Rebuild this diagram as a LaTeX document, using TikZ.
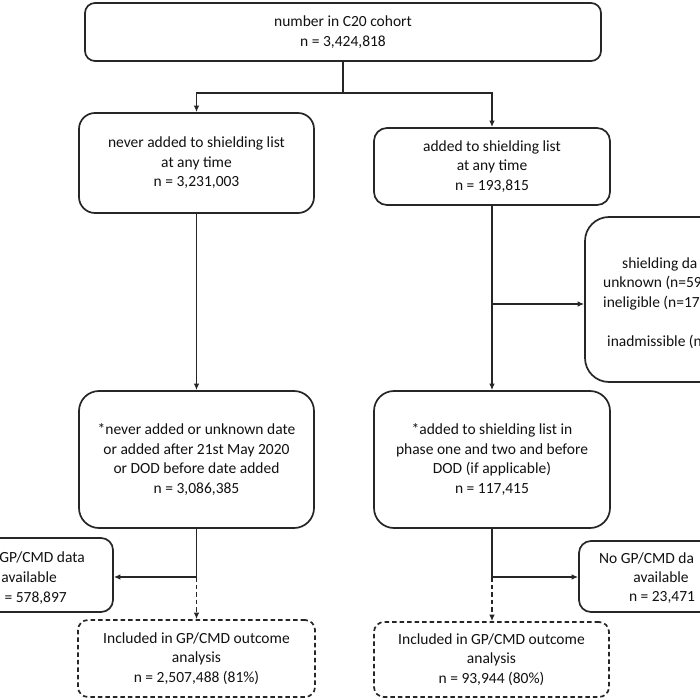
\documentclass[tikz,border=0pt]{standalone}
\usepackage{fontspec}
\setmainfont{Carlito}
\usetikzlibrary{arrows.meta}
\definecolor{linec}{HTML}{262626}
\definecolor{txtc}{HTML}{111111}
\newcommand{\boxfont}{\fontsize{15.5}{19.5}\selectfont}
\begin{document}
\begin{tikzpicture}[x=1pt,y=-1pt,
  box/.style={draw=linec, line width=1.7pt, rounded corners=#1, align=center,
    inner sep=0pt, font=\boxfont, text=txtc},
  box/.default=12pt,
  lbl/.style={inner sep=0pt, font=\boxfont, text=txtc},
  conn/.style={draw=linec, line width=1.5pt},
  arr/.style={conn, -{Latex[length=6.5pt,width=5.5pt]}},
  dashline/.style={dash pattern=on 4.5pt off 3pt},
]
\useasboundingbox (0,0) rectangle (700,700);
\clip (0,0) rectangle (700,700);
\fill[white] (0,0) rectangle (700,700);

% boxes
\node[box=10pt, minimum width=516pt, minimum height=58pt] (top) at (343,32)
  {number in C20 cohort\\n = 3,424,818};
\node[box=16pt, minimum width=235pt, minimum height=100pt] (left2) at (196.5,163)
  {never added to shielding list\\at any time\\n = 3,231,003};
\node[box=13pt, minimum width=236pt, minimum height=77pt] (right2) at (492,166.5)
  {added to shielding list\\at any time\\n = 193,815};
\node[box=24pt, minimum width=215pt, minimum height=165pt] (shield) at (692.5,299.5) {};
\node[box=20pt, minimum width=235pt, minimum height=137pt] (left3) at (196.5,459.5)
  {*never added or unknown date\\or added after 21st May 2020\\or DOD before date added\\n = 3,086,385};
\node[box=20pt, minimum width=236pt, minimum height=137pt] (right3) at (492,459.5)
  {*added to shielding list in\\phase one and two and before\\DOD (if applicable)\\n = 117,415};
\node[box=12pt, minimum width=173pt, minimum height=74pt] (leftgp) at (26.5,575) {};
\node[box=12pt, minimum width=181pt, minimum height=71pt] (rightgp) at (669.5,576.5) {};
\node[box=10pt, dashline, minimum width=237pt, minimum height=77pt] (leftdash) at (196.5,658.5)
  {Included in GP/CMD outcome\\analysis\\n = 2,507,488 (81\%)};
\node[box=10pt, dashline, minimum width=235pt, minimum height=75pt] (rightdash) at (491.5,659.5)
  {Included in GP/CMD outcome\\analysis\\n = 93,944 (80\%)};

% partial texts of the cropped boxes
\node[lbl, anchor=base west] (sh1) at (622,268) {shielding da};
\node[lbl, anchor=base west] (sh2) at (603,287) {unknown (n=59};
\node[lbl, anchor=base west] (sh3) at (603,307) {ineligible (n=17};
\node[lbl, anchor=base west] (sh4) at (607,346) {inadmissible (n};

\node[lbl, anchor=base east] (lg1) at (85,562) {GP/CMD data};
\node[lbl, anchor=base east] (lg2) at (57,582) {available};
\node[lbl, anchor=base east] (lg3) at (67,602) {= 578,897};

\node[lbl, anchor=base west] (rg1) at (599,563) {No GP/CMD da};
\node[lbl, anchor=base] (rg2) at (661,582) {available};
\node[lbl, anchor=base] (rg3) at (662,601) {n = 23,471};

% connectors
\coordinate (j1) at (343,93);
\draw[arr] (top.south) -- (j1) -| (left2.north);
\draw[arr] (j1) -| (right2.north);
\draw[arr] (left2.south) -- (left3.north);
\draw[arr] (right2.south) -- (right3.north);
\coordinate (j2) at (492,304);
\draw[arr] (j2) -- (j2 -| shield.west);

\coordinate (j3) at (196.5,577);
\draw[conn] (left3.south) -- (j3);
\draw[arr] (j3) -- (j3 -| leftgp.east);
\draw[arr, dashline] (j3) -- (leftdash.north);

\coordinate (j4) at (492,577);
\draw[conn] (right3.south) -- (j4);
\draw[arr] (j4) -- (j4 -| rightgp.west);
\draw[arr, dashline] (j4) -- (j4 |- rightdash.north);
\end{tikzpicture}
\end{document}
